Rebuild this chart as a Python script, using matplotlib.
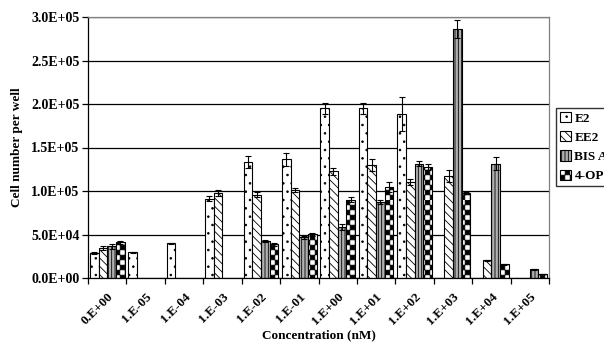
import warnings
import numpy as np
import matplotlib
matplotlib.use("Agg")
import matplotlib.pyplot as plt
import matplotlib.hatch as mhatch
from matplotlib.path import Path
from matplotlib.transforms import ScaledTranslation

warnings.filterwarnings("ignore")

#-------------------------------
# DATA
#-------------------------------
nan = np.nan
concentrations = ["0.E+00", "1.E-05", "1.E-04", "1.E-03", "1.E-02", "1.E-01",
                  "1.E+00", "1.E+01", "1.E+02", "1.E+03", "1.E+04", "1.E+05"]
series_names = ["E2", "EE2", "BIS A", "4-OP"]
ytick_vals = [0, 5e4, 1e5, 1.5e5, 2e5, 2.5e5, 3e5]
ytick_labels = ["0.0E+00", "5.0E+04", "1.0E+05", "1.5E+05", "2.0E+05", "2.5E+05", "3.0E+05"]

e2 = [28.5e3, 29.4e3, 39.7e3, 91e3, 133e3, 136.5e3, 195e3, 195e3, 189e3, nan, nan, nan]
e2_err = [1.0e3, 0.5e3, 0.8e3, 2.7e3, 6.7e3, 7.7e3, 6.5e3, 6e3, 19.6e3, nan, nan, nan]
ee2 = [34.3e3, nan, nan, 97.7e3, 95.8e3, 100.8e3, 122.7e3, 129.6e3, 110.4e3, 117.3e3, 20.2e3, nan]
ee2_err = [2e3, nan, nan, 3e3, 2.5e3, 2.5e3, 4e3, 7e3, 3.5e3, 6.7e3, 0.3e3, nan]
bisa = [36.3e3, nan, nan, nan, 42.8e3, 46.7e3, 58.5e3, 87.3e3, 131.6e3, 285.9e3, 131.6e3, 9.8e3]
bisa_err = [3e3, nan, nan, nan, 1e3, 1.5e3, 3e3, 2.5e3, 3e3, 10.5e3, 7.3e3, 0.5e3]
op4 = [40.9e3, nan, nan, nan, 38.6e3, 50.1e3, 90.1e3, 104.6e3, 127.7e3, 98.2e3, 15.6e3, 4.8e3]
op4_err = [2e3, nan, nan, nan, 1.5e3, 2e3, 2.5e3, 6.3e3, 3e3, 1.2e3, 0.8e3, 0.3e3]


#-------------------------------
# checkerboard hatch ('c')
#-------------------------------
class CheckerHatch(mhatch.HatchPatternBase):
	def __init__(self, hatch, density):
		self.n = hatch.count('c') * 20
		self.num_vertices = (self.n * self.n // 2) * 5

	def set_vertices_and_codes(self, vertices, codes):
		n = self.n
		s = 1.0 / n
		d = 0.002
		k = 0
		for i in range(n):
			for j in range(n):
				if (i + j) % 2 == 0:
					x, y = i * s, j * s
					vertices[k:k + 5] = [(x + d, y + d), (x + s - d, y + d),
					                     (x + s - d, y + s - d), (x + d, y + s - d),
					                     (x + d, y + d)]
					codes[k:k + 5] = [Path.MOVETO, Path.LINETO, Path.LINETO,
					                  Path.LINETO, Path.CLOSEPOLY]
					k += 5

mhatch._hatch_types.append(CheckerHatch)


plt.rcParams['font.family'] = ['Liberation Serif', 'DejaVu Serif']
plt.rcParams['font.weight'] = 'bold'
plt.rcParams['hatch.linewidth'] = 0.6

fig = plt.figure(figsize=(6.04, 3.48), dpi=100)
ax = fig.add_axes([88 / 604, 1 - 278 / 348, 461 / 604, 261 / 348])

x = np.arange(len(concentrations))
w = 0.226
styles = [
	dict(facecolor='white', hatch='..'),
	dict(facecolor='white', hatch='\\\\\\\\'),
	dict(facecolor='#b0b0b0', hatch='|||||'),
	dict(facecolor='white', hatch='c'),
]
values = [e2, ee2, bisa, op4]
errors = [e2_err, ee2_err, bisa_err, op4_err]

for k in range(4):
	pos = x + (k - 1.5) * w
	ax.bar(pos, values[k], width=w, edgecolor='black', linewidth=0.8,
	       label=series_names[k], zorder=2, **styles[k])
	ax.errorbar(pos, values[k], yerr=errors[k], fmt='none', ecolor='black',
	            elinewidth=0.8, capsize=2.2, capthick=0.8, zorder=3)

ax.set_xlim(-0.5, len(concentrations) - 0.5)
ax.set_ylim(0, 3e5)
ax.set_yticks(ytick_vals)
ax.set_yticklabels(ytick_labels, fontsize=10, fontweight='bold')
ax.yaxis.grid(True, color='black', linewidth=0.9)
ax.set_axisbelow(True)

# ticks at category borders, labels at centers
ax.set_xticks(np.arange(-0.5, len(concentrations)), minor=False)
ax.set_xticklabels([])
ax.set_xticks(x, minor=True)
ax.set_xticklabels(concentrations, minor=True, rotation=45, ha='right',
                   va='top', rotation_mode='anchor', fontsize=9.5, fontweight='bold')
shift = ScaledTranslation(-17 / 100, 0, fig.dpi_scale_trans)
for lbl in ax.get_xticklabels(minor=True):
	lbl.set_transform(lbl.get_transform() + shift)
ax.tick_params(axis='x', which='minor', length=0, pad=9)
ax.tick_params(axis='x', which='major', length=4, width=0.9, direction='out')
ax.tick_params(axis='y', length=4, width=0.9, direction='out', pad=2)

for s in ['top', 'right']:
	ax.spines[s].set_color('#808080')
	ax.spines[s].set_linewidth(0.9)
for s in ['left', 'bottom']:
	ax.spines[s].set_linewidth(0.9)

ax.set_ylabel("Cell number per well", fontsize=9.5, fontweight='bold', labelpad=6)
ax.set_xlabel("Concentration (nM)", fontsize=9.5, fontweight='bold')
ax.xaxis.set_label_coords(0.5, (278 - 335) / 261)
ax.xaxis.label.set_va('center')

fig.legend(loc='upper left', bbox_to_anchor=(556 / 604, 1 - 108 / 348),
           prop=dict(size=9.5, weight='bold'), frameon=True, fancybox=False,
           edgecolor='black', handlelength=0.8, handleheight=0.8,
           handletextpad=0.3, labelspacing=0.5, borderpad=0.3, borderaxespad=0)

fig.savefig("out.png", dpi=100)
